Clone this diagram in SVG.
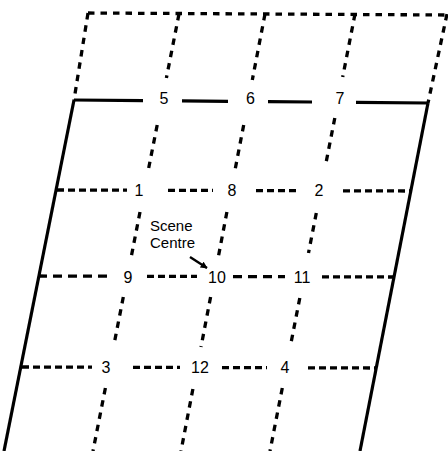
<svg xmlns="http://www.w3.org/2000/svg" width="448" height="451" viewBox="0 0 448 451">
<style>
.solid{stroke:#000;stroke-width:3.2;fill:none}
.dash{stroke:#000;stroke-width:3.3;fill:none;stroke-dasharray:6.5 6}
.hd{stroke:#000;stroke-width:3.3;fill:none;stroke-dasharray:7 4}
.hd9{stroke:#000;stroke-width:3.3;fill:none;stroke-dasharray:9 6}
.lbl{font-family:"Liberation Sans",Arial,sans-serif;font-size:16px;fill:#000;text-anchor:middle}
.note{font-family:"Liberation Sans",Arial,sans-serif;font-size:15px;fill:#000}
</style>
<defs>
<marker id="ah" viewBox="0 0 10 10" refX="9" refY="5" markerWidth="7" markerHeight="7" orient="auto" markerUnits="userSpaceOnUse">
<path d="M0,0 L10,5 L0,10 z" fill="#000"/>
</marker>
</defs>
<rect width="448" height="451" fill="#fff"/>
<g id="connectors">
<line class="dash" x1="88" y1="13" x2="448" y2="15"/>
<line class="dash" x1="88" y1="13" x2="74" y2="100"/>
<line class="dash" x1="447" y1="14" x2="428" y2="103"/>
<line class="solid" x1="74" y1="100" x2="4" y2="451"/>
<line class="solid" x1="428" y1="103" x2="360" y2="451"/>
<line class="solid" x1="74" y1="100" x2="143" y2="100.6"/>
<line class="solid" x1="182" y1="100.9" x2="228" y2="101.3"/>
<line class="solid" x1="268" y1="101.6" x2="312" y2="102"/>
<line class="solid" x1="356" y1="102.4" x2="428" y2="103"/>
<line class="hd" x1="57" y1="190" x2="127" y2="190.2"/>
<line class="hd" x1="168" y1="190.3" x2="213" y2="190.4"/>
<line class="hd" x1="256" y1="190.6" x2="300" y2="190.7"/>
<line class="hd" x1="343" y1="190.8" x2="410" y2="191"/>
<line class="hd9" x1="38" y1="276" x2="110" y2="276.2"/>
<line class="hd" x1="147" y1="276.3" x2="197" y2="276.4"/>
<line class="hd9" x1="233" y1="276.6" x2="285" y2="276.7"/>
<line class="hd" x1="322" y1="276.8" x2="393" y2="277"/>
<line class="hd" x1="22" y1="367" x2="92" y2="367.2"/>
<line class="hd" x1="133" y1="367.3" x2="180" y2="367.4"/>
<line class="hd" x1="222" y1="367.6" x2="267" y2="367.7"/>
<line class="hd" x1="308" y1="367.8" x2="377" y2="368"/>
<line class="dash" x1="179" y1="14" x2="166.4" y2="78"/>
<line class="dash" x1="157.2" y1="125" x2="148.7" y2="168"/>
<line class="dash" x1="140" y1="212" x2="131.2" y2="257"/>
<line class="dash" x1="123.3" y1="297" x2="114.5" y2="342"/>
<line class="dash" x1="105.4" y1="388" x2="93" y2="451"/>
<line class="dash" x1="265" y1="14" x2="252.3" y2="80"/>
<line class="dash" x1="243.7" y1="125" x2="235" y2="170"/>
<line class="dash" x1="226.9" y1="212" x2="218.3" y2="257"/>
<line class="dash" x1="210.6" y1="297" x2="201" y2="347"/>
<line class="dash" x1="192.9" y1="389" x2="181" y2="451"/>
<line class="dash" x1="355" y1="14" x2="342.7" y2="77"/>
<line class="dash" x1="334.8" y1="118" x2="325.2" y2="167"/>
<line class="dash" x1="316.3" y1="213" x2="308.5" y2="253"/>
<line class="dash" x1="299.8" y1="298" x2="291" y2="343"/>
<line class="dash" x1="282.3" y1="388" x2="270" y2="451"/>
<line x1="190" y1="257" x2="207" y2="268" stroke="#000" stroke-width="2.4" marker-end="url(#ah)"/>
</g>
<g id="p5"><text class="lbl" x="164" y="104">5</text></g>
<g id="p6"><text class="lbl" x="250.5" y="104">6</text></g>
<g id="p7"><text class="lbl" x="340" y="104">7</text></g>
<g id="p1"><text class="lbl" x="139" y="196">1</text></g>
<g id="p8"><text class="lbl" x="232" y="196">8</text></g>
<g id="p2"><text class="lbl" x="319" y="196">2</text></g>
<g id="p9"><text class="lbl" x="128" y="283">9</text></g>
<g id="p10"><text class="lbl" x="217" y="283">10</text></g>
<g id="p11"><text class="lbl" x="302" y="283">11</text></g>
<g id="p3"><text class="lbl" x="106" y="373">3</text></g>
<g id="p12"><text class="lbl" x="200" y="373">12</text></g>
<g id="p4"><text class="lbl" x="285" y="373">4</text></g>
<g id="scene-centre">
<text class="note" x="150" y="231">Scene</text>
<text class="note" x="150" y="248">Centre</text>
</g>
</svg>
